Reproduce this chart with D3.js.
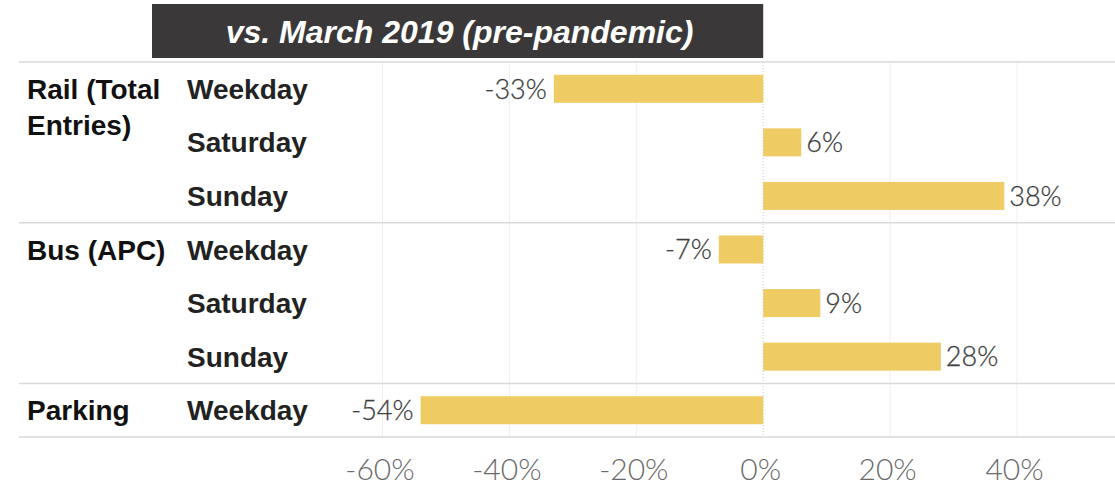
<!DOCTYPE html>
<html>
<head>
<meta charset="utf-8">
<script src="https://cdn.jsdelivr.net/npm/d3@7"></script>
<style>
  html, body { margin: 0; padding: 0; background: #fff; }
  svg { display: block; }
</style>
</head>
<body>
<svg id="chart" width="1115" height="487"></svg>
<script>
// ---- data ----
const title = "vs. March 2019 (pre-pandemic)";
const groups = ["Rail (Total Entries)", "Bus (APC)", "Parking"];
const groupLines = [["Rail (Total", "Entries)"], ["Bus (APC)"], ["Parking"]];
const rowGroups = ["Rail (Total Entries)", "Rail (Total Entries)", "Rail (Total Entries)", "Bus (APC)", "Bus (APC)", "Bus (APC)", "Parking"];
const rowDays = ["Weekday", "Saturday", "Sunday", "Weekday", "Saturday", "Sunday", "Weekday"];
const rowValues = [-33, 6, 38, -7, 9, 28, -54];
const tickValues = [-60, -40, -20, 0, 20, 40];

// ---- layout ----
(function () {
const svg = d3.select("#chart");
const W = 1115;
const plotTop = 62, plotBottom = 437;
const lineLeft = 19;

const rows = rowDays.map((d, i) => ({ id: i, group: rowGroups[i], day: d, value: rowValues[i] }));

const x = d3.scaleLinear().domain([-60, 40]).range([382.5, 1017]);
const y = d3.scaleBand().domain(rows.map(r => r.id)).range([plotTop, plotBottom]).padding(0);
const barH = 28;

// header box
svg.append("rect")
  .attr("x", 152).attr("y", 4)
  .attr("width", x(0) - 152).attr("height", 54)
  .attr("fill", "#3a3838");
svg.append("text")
  .attr("x", (152 + x(0)) / 2 + 2).attr("y", 43)
  .attr("text-anchor", "middle")
  .attr("font-family", "Liberation Sans, Arial, sans-serif")
  .attr("font-weight", "bold").attr("font-style", "italic")
  .attr("font-size", 32).attr("fill", "#fff")
  .text(title);

// vertical gridlines
svg.append("g").selectAll("line")
  .data(tickValues.filter(t => t !== 0))
  .join("line")
  .attr("x1", d => x(d)).attr("x2", d => x(d))
  .attr("y1", plotTop).attr("y2", plotBottom)
  .attr("stroke", "#efefef").attr("stroke-width", 1);

// zero line (dotted)
svg.append("line")
  .attr("x1", x(0)).attr("x2", x(0))
  .attr("y1", plotTop).attr("y2", plotBottom)
  .attr("stroke", "#c8c8c8").attr("stroke-width", 1)
  .attr("stroke-dasharray", "1,2");

// group separators
const groupBounds = groups.map(g => {
  const rs = rows.filter(r => r.group === g);
  return { group: g, y0: y(rs[0].id), y1: y(rs[rs.length - 1].id) + y.bandwidth() };
});
const sepYs = [plotTop].concat(groupBounds.map(b => b.y1));
svg.append("g").selectAll("line")
  .data(sepYs)
  .join("line")
  .attr("x1", lineLeft).attr("x2", W)
  .attr("y1", d => d).attr("y2", d => d)
  .attr("stroke", "#d9d9d9").attr("stroke-width", 1.5);

// bars
svg.append("g").selectAll("rect")
  .data(rows)
  .join("rect")
  .attr("x", d => x(Math.min(0, d.value)))
  .attr("width", d => Math.abs(x(d.value) - x(0)))
  .attr("y", d => y(d.id) + (y.bandwidth() - barH) / 2)
  .attr("height", barH)
  .attr("fill", "#eecb63");

// value labels
svg.append("g").selectAll("text")
  .data(rows)
  .join("text")
  .attr("x", d => d.value < 0 ? x(d.value) - 7 : x(d.value) + 5)
  .attr("y", d => y(d.id) + y.bandwidth() / 2)
  .attr("dy", "0.36em")
  .attr("text-anchor", d => d.value < 0 ? "end" : "start")
  .attr("font-family", "Lato, 'Open Sans', sans-serif")
  .attr("font-weight", 300)
  .attr("font-size", 27)
  .attr("fill", "#3f3f3f")
  .attr("stroke", "#3f3f3f").attr("stroke-width", 0.3)
  .text(d => d.value + "%");

// day labels
svg.append("g").selectAll("text")
  .data(rows)
  .join("text")
  .attr("x", 187)
  .attr("y", d => y(d.id) + y.bandwidth() / 2)
  .attr("dy", "0.36em")
  .attr("font-family", "Liberation Sans, Arial, sans-serif")
  .attr("font-weight", "bold")
  .attr("font-size", 28)
  .attr("fill", "#222")
  .text(d => d.day);

// group labels
const gl = svg.append("g").selectAll("text")
  .data(groupBounds)
  .join("text")
  .attr("x", 27)
  .attr("y", d => d.y0 + y.bandwidth() / 2)
  .attr("font-family", "Liberation Sans, Arial, sans-serif")
  .attr("font-weight", "bold")
  .attr("font-size", 28)
  .attr("fill", "#111");
gl.selectAll("tspan")
  .data((d, i) => groupLines[i])
  .join("tspan")
  .attr("x", 27)
  .attr("dy", (d, i) => i === 0 ? "0.36em" : "1.3em")
  .text(d => d);

// x axis
const axis = d3.axisBottom(x)
  .tickValues(tickValues)
  .tickFormat(d => d + "%")
  .tickSize(0);
const ax = svg.append("g")
  .attr("transform", `translate(0,${plotBottom})`)
  .call(axis);
ax.select(".domain").remove();
ax.selectAll("text")
  .attr("x", -3)
  .attr("y", 43)
  .attr("dy", 0)
  .attr("font-family", "Lato, 'Open Sans', sans-serif")
  .attr("font-weight", 300)
  .attr("font-size", 30)
  .attr("fill", "#6a6a6a");
})();
</script>
</body>
</html>
